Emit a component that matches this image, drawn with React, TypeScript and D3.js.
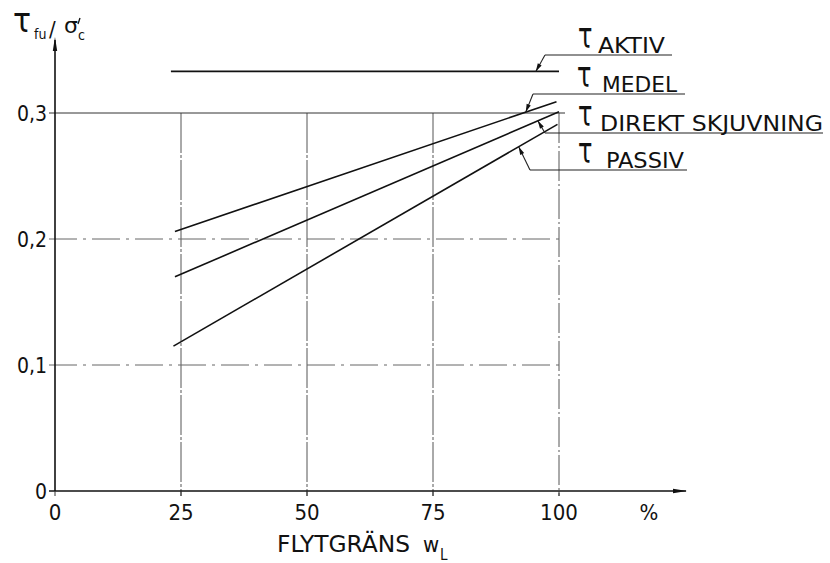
import React from "react";
import * as d3 from "d3";

// ---------- data ----------
const xTicks = [0, 25, 50, 75, 100];
const xTickLabels = ["0", "25", "50", "75", "100"];
const yTicks = [0, 0.1, 0.2, 0.3];
const yTickLabels = ["0", "0,1", "0,2", "0,3"];
const seriesNames = ["AKTIV", "MEDEL", "DIREKT  SKJUVNING", "PASSIV"];
const seriesWL = [
  [23, 100],
  [23.8, 99.5],
  [23.8, 100],
  [23.5, 99.7],
];
const seriesTau = [
  [0.333, 0.333],
  [0.206, 0.309],
  [0.17, 0.301],
  [0.115, 0.291],
];
const leaderWL = [95.4, 93.4, 95.8, 92];

// ---------- layout ----------
const W = 830;
const H = 563;
const FONT = "'DejaVu Sans Condensed', 'Liberation Sans Narrow', 'DejaVu Sans', sans-serif";
const labelLayout = [
  { elbowX: 545, y: 55, endX: 672, tauX: 578, textX: 598, textW: 67 },
  { elbowX: 533, y: 94, endX: 685, tauX: 577, textX: 602, textW: 75 },
  { elbowX: 545, y: 133, endX: 823, tauX: 578, textX: 600, textW: 223 },
  { elbowX: 530, y: 170, endX: 687, tauX: 578, textX: 606, textW: 78 },
];

function Arrow({ x0, y0, x1, y1, len = 9, hw = 2.4 }: any) {
  const a = Math.atan2(y1 - y0, x1 - x0);
  const bx = x1 - len * Math.cos(a);
  const by = y1 - len * Math.sin(a);
  const px = -Math.sin(a) * hw;
  const py = Math.cos(a) * hw;
  return (
    <polygon
      points={`${x1},${y1} ${bx + px},${by + py} ${bx - px},${by - py}`}
      fill="#111"
    />
  );
}

function Tau({ x, y, size = 24, sy = 1.45 }: any) {
  return (
    <text
      transform={`translate(${x},${y}) scale(1,${sy})`}
      fontSize={size}
      fontFamily="'DejaVu Sans', sans-serif"
      fill="#111"
    >
      τ
    </text>
  );
}

export default function App() {
  const x = d3.scaleLinear().domain([0, 100]).range([55, 559]);
  const y = d3.scaleLinear().domain([0, 0.3]).range([491, 113]);
  const line = d3
    .line<[number, number]>()
    .x((d) => x(d[0]))
    .y((d) => y(d[1]));

  const x0 = x(0);
  const y0 = y(0);

  return (
    <svg
      width={W}
      height={H}
      style={{ position: "absolute", left: 0, top: 0, background: "#fff" }}
      fontFamily={FONT}
    >
      <rect x={0} y={0} width={W} height={H} fill="#fff" />

      {/* vertical grid */}
      {xTicks.slice(1).map((t) => (
        <line
          key={"vg" + t}
          x1={x(t)}
          x2={x(t)}
          y1={y(0.3)}
          y2={y0 + 5}
          stroke="#555"
          strokeWidth={1}
          strokeDasharray={t === 100 ? "30 3 2 3" : "40 2 3 2"}
        />
      ))}
      {/* horizontal grid */}
      {yTicks.slice(1).map((t) => (
        <line
          key={"hg" + t}
          x1={x0 - 6}
          x2={t === 0.3 ? x(100) + 6 : x(100)}
          y1={y(t)}
          y2={y(t)}
          stroke={t === 0.3 ? "#333" : "#666"}
          strokeWidth={1}
          strokeDasharray={t === 0.3 ? "none" : "28 6 3 6"}
        />
      ))}

      {/* axes */}
      <line x1={x0 - 6} x2={686} y1={y0} y2={y0} stroke="#111" strokeWidth={1.6} />
      <Arrow x0={600} y0={y0} x1={687} y1={y0} len={14} hw={2.2} />
      <line x1={x0} x2={x0} y1={y0} y2={40} stroke="#111" strokeWidth={1.6} />
      <Arrow x0={x0} y0={200} x1={x0} y1={37} len={14} hw={2.2} />

      {/* y ticks */}
      {yTicks.map((t, i) => (
        <text
          key={"yl" + t}
          x={47}
          y={y(t) + 7.5}
          textAnchor="end"
          fontSize={21}
          fill="#111"
        >
          {yTickLabels[i]}
        </text>
      ))}
      {/* x ticks */}
      {xTicks.map((t, i) => (
        <g key={"xl" + t}>
          <line x1={x(t)} x2={x(t)} y1={y0} y2={y0 + 5} stroke="#333" strokeWidth={1} />
          <text x={x(t)} y={520} textAnchor="middle" fontSize={22} fill="#111">
            {xTickLabels[i]}
          </text>
        </g>
      ))}
      <text x={649} y={520} textAnchor="middle" fontSize={22} fill="#111">
        %
      </text>

      {/* x axis title */}
      <text x={277} y={552} fontSize={23} fill="#111" textLength={133} lengthAdjust="spacingAndGlyphs">
        FLYTGRÄNS
      </text>
      <text x={423} y={552} fontSize={22} fill="#111">
        w
      </text>
      <text x={440} y={560} fontSize={15} fill="#111">
        L
      </text>

      {/* y axis title */}
      <Tau x={13} y={32} size={30} sy={1.15} />
      <text x={34} y={39} fontSize={14} fill="#111">
        fu
      </text>
      <text x={49} y={37} fontSize={22} fill="#111">
        /
      </text>
      <text x={64} y={33} fontSize={22} fill="#111" fontFamily="'DejaVu Sans', sans-serif">
        σ
      </text>
      <line x1={80} y1={18} x2={78} y2={24} stroke="#111" strokeWidth={1.3} />
      <text x={78} y={40} fontSize={14} fill="#111">
        c
      </text>

      {/* series lines */}
      {seriesNames.map((n, i) => {
        const pts: [number, number][] = seriesWL[i].map((w, j) => [w, seriesTau[i][j]]);
        return (
          <path
            key={"s" + i}
            d={line(pts) || ""}
            fill="none"
            stroke="#111"
            strokeWidth={1.6}
          />
        );
      })}

      {/* labels with leaders */}
      {seriesNames.map((n, i) => {
        const L = labelLayout[i];
        const w0 = seriesWL[i][0];
        const w1 = seriesWL[i][1];
        const t0 = seriesTau[i][0];
        const t1 = seriesTau[i][1];
        const lw = leaderWL[i];
        const tx = x(lw);
        const ty = y(t0 + ((lw - w0) / (w1 - w0)) * (t1 - t0));
        return (
          <g key={"lab" + i}>
            <line x1={L.elbowX} y1={L.y} x2={L.endX} y2={L.y} stroke="#222" strokeWidth={1.1} />
            <line x1={L.elbowX} y1={L.y} x2={tx} y2={ty} stroke="#222" strokeWidth={1.1} />
            <Arrow x0={L.elbowX} y0={L.y} x1={tx} y1={ty} len={8} hw={2.2} />
            <Tau x={L.tauX} y={L.y - 7} size={24} sy={1.45} />
            <text
              x={L.textX}
              y={L.y - 2}
              fontSize={22}
              fill="#111"
              textLength={L.textW}
              lengthAdjust="spacingAndGlyphs"
            >
              {n}
            </text>
          </g>
        );
      })}
    </svg>
  );
}
